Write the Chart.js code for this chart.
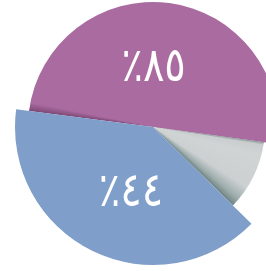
<!DOCTYPE html>
<html lang="ar">
<head>
  <meta charset="UTF-8">
  <title>Pie</title>
  <script src="https://cdn.jsdelivr.net/npm/chart.js"></script>
  <style>
    html, body { margin: 0; padding: 0; background: #fff; }
    .chart-box { width: 266px; height: 271px; position: relative; }
  </style>
</head>
<body>
<div class="chart-box"><canvas id="pie"></canvas></div>
<script>
// slices in drawing order (clockwise)
const sliceNames = ['purple', 'grey', 'blue'];
const shares = [50.1, 10.2, 39.7];          // percent of the circle
const radii = [125, 112, 138];               // slice length on the radial scale
const sliceLabels = ['٪٨٥', '', '٪٤٤'];
const sliceColors = ['#a96ba0', '#d0d3d4', '#7f9fca'];

const START = 277.4; // degrees from 12 o'clock

function sliceStart(i) {
  // screen angle (deg, clockwise from 3 o'clock) where slice i begins
  let a = START - 90;
  for (let k = 0; k < i; k++) a += shares[k] * 3.6;
  return a;
}

function fillFor(ctx) {
  const i = ctx.dataIndex;
  const chart = ctx.chart;
  const r = chart.scales.r;
  if (!r || r.xCenter === undefined) return sliceColors[i];
  const c = chart.ctx;
  const a0 = sliceStart(i), a1 = a0 + shares[i] * 3.6;
  const g = c.createConicGradient(Math.PI, r.xCenter, r.yCenter);
  const off = a => (((a - 180) % 360) + 360) % 360 / 360;
  if (i === 0) {
    // soft shadow on the edge next to the blue slice
    g.addColorStop(0, sliceColors[0]);
    g.addColorStop(off(a0), '#7e4875');
    g.addColorStop(off(a0 + 4), sliceColors[0]);
    g.addColorStop(1, sliceColors[0]);
    return g;
  }
  if (i === 1) {
    // curled grey slice
    const span = a1 - a0;
    g.addColorStop(0, '#6d8181');
    g.addColorStop(off(a0), '#8e9a9a');
    g.addColorStop(off(a0 + 1.5), '#c9cdce');
    g.addColorStop(off(a0 + span * 0.2), '#d1d4d5');
    g.addColorStop(off(a0 + span * 0.68), '#ccd0d1');
    g.addColorStop(off(a0 + span * 0.88), '#9fadad');
    g.addColorStop(off(a1), '#6f8484');
    g.addColorStop(1, '#6f8484');
    return g;
  }
  return sliceColors[i];
}

const sliceText = {
  id: 'sliceText',
  afterDatasetsDraw(chart) {
    const c = chart.ctx;
    const meta = chart.getDatasetMeta(0);
    meta.data.forEach((arc, i) => {
      if (!sliceLabels[i]) return;
      const p = arc.getProps(['x', 'y', 'startAngle', 'endAngle', 'outerRadius'], true);
      const mid = (p.startAngle + p.endAngle) / 2 - 7 * Math.PI / 180;
      const d = p.outerRadius * 0.49;
      c.save();
      c.translate(p.x + Math.cos(mid) * d, p.y + Math.sin(mid) * d + 3);
      c.scale(1, 1.18);
      c.fillStyle = '#ffffff';
      c.font = '40px "DejaVu Sans", sans-serif';
      c.textAlign = 'center';
      c.textBaseline = 'middle';
      c.fillText(sliceLabels[i], 0, 0);
      c.restore();
    });
  }
};

new Chart(document.getElementById('pie'), {
  type: 'polarArea',
  data: {
    labels: sliceNames,
    datasets: [{
      data: radii,
      angle: shares.map(s => s * 3.6),
      backgroundColor: fillFor,
      borderWidth: 0,
      clip: false
    }]
  },
  options: {
    responsive: true,
    maintainAspectRatio: false,
    animation: false,
    layout: { padding: { left: 40, right: 0, top: 0, bottom: 17 } },
    scales: {
      r: {
        display: false,
        min: 0,
        max: 113,
        startAngle: START
      }
    },
    plugins: {
      legend: { display: false },
      tooltip: { enabled: false }
    }
  },
  plugins: [sliceText]
});
</script>
</body>
</html>
